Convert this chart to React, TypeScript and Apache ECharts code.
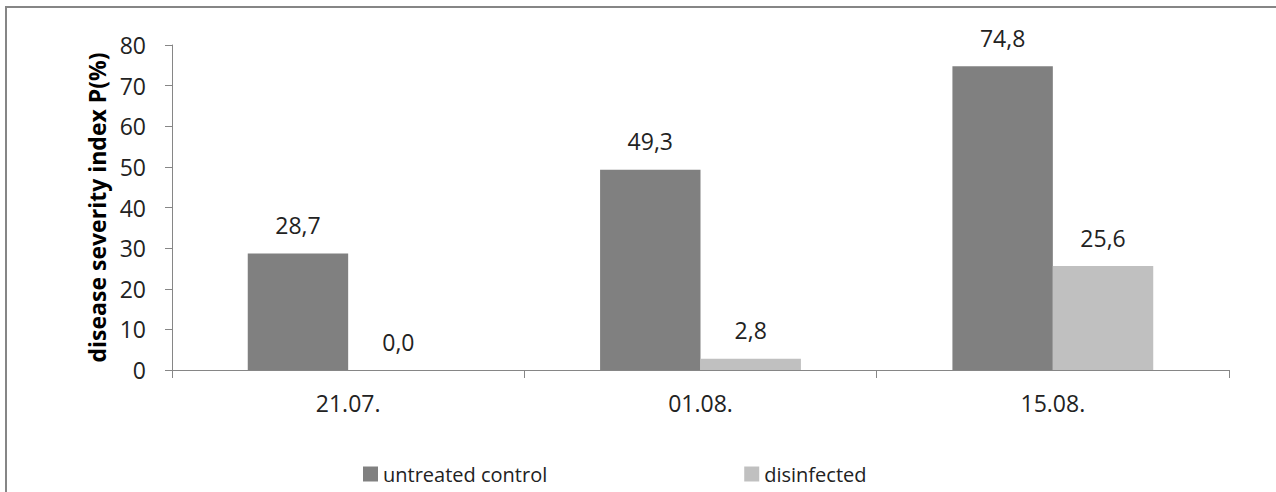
import React, { useEffect, useRef } from "react";
import * as echarts from "echarts";

const categories = ["21.07.", "01.08.", "15.08."];
const untreated = [28.7, 49.3, 74.8];
const disinfected = [0.0, 2.8, 25.6];
const seriesNames = ["untreated control", "disinfected"];
const yTicks = { min: 0, max: 80, interval: 10 };

const FONT = "'Open Sans', sans-serif";
const fmt = (p: any) => Number(p.value).toFixed(1).replace(".", ",");

export default function App() {
  const ref = useRef<HTMLDivElement>(null);
  useEffect(() => {
    const chart = echarts.init(ref.current!, null, { renderer: "svg" });
    chart.setOption({
      animation: false,
      backgroundColor: "#ffffff",
      textStyle: { fontFamily: FONT },
      graphic: [
        {
          type: "rect",
          shape: { x: 6, y: 7, width: 1320, height: 520 },
          style: { fill: "none", stroke: "#868686", lineWidth: 2 },
          silent: true,
        },
      ],
      grid: { left: 172, right: 47, top: 45, bottom: 122 },
      legend: {
        left: 358,
        top: 459,
        itemWidth: 15,
        itemHeight: 15,
        itemGap: 197,
        icon: "rect",
        textStyle: { fontFamily: FONT, fontSize: 20, color: "#222" },
        data: seriesNames,
      },
      xAxis: {
        type: "category",
        data: categories,
        axisLine: { lineStyle: { color: "#868686", width: 1 } },
        axisTick: { show: true, length: 8, lineStyle: { color: "#868686" } },
        axisLabel: { fontFamily: FONT, fontSize: 23, color: "#222", margin: 21 },
      },
      yAxis: {
        type: "value",
        min: yTicks.min,
        max: yTicks.max,
        interval: yTicks.interval,
        name: "disease severity index P(%)",
        nameLocation: "middle",
        nameGap: 62,
        nameRotate: 90,
        nameTextStyle: { fontFamily: FONT, fontSize: 23, fontWeight: "bold", color: "#000" },
        axisLine: { show: true, lineStyle: { color: "#868686", width: 1 } },
        axisTick: { show: true, length: 7, lineStyle: { color: "#868686" } },
        splitLine: { show: false },
        axisLabel: { fontFamily: FONT, fontSize: 23, color: "#222", margin: 26 },
      },
      series: [
        {
          name: seriesNames[0],
          type: "bar",
          data: untreated,
          barGap: "0%",
          barCategoryGap: "43%",
          itemStyle: { color: "#808080" },
          label: { show: true, position: "top", distance: 17, formatter: fmt, fontFamily: FONT, fontSize: 23, color: "#222" },
        },
        {
          name: seriesNames[1],
          type: "bar",
          data: disinfected,
          barGap: "0%",
          barCategoryGap: "43%",
          itemStyle: { color: "#C0C0C0" },
          label: { show: true, position: "top", distance: 17, formatter: fmt, fontFamily: FONT, fontSize: 23, color: "#222" },
        },
      ],
    });
    return () => chart.dispose();
  }, []);
  return (
    <div
      ref={ref}
      style={{ position: "absolute", left: 0, top: 0, width: 1276, height: 492 }}
    />
  );
}
